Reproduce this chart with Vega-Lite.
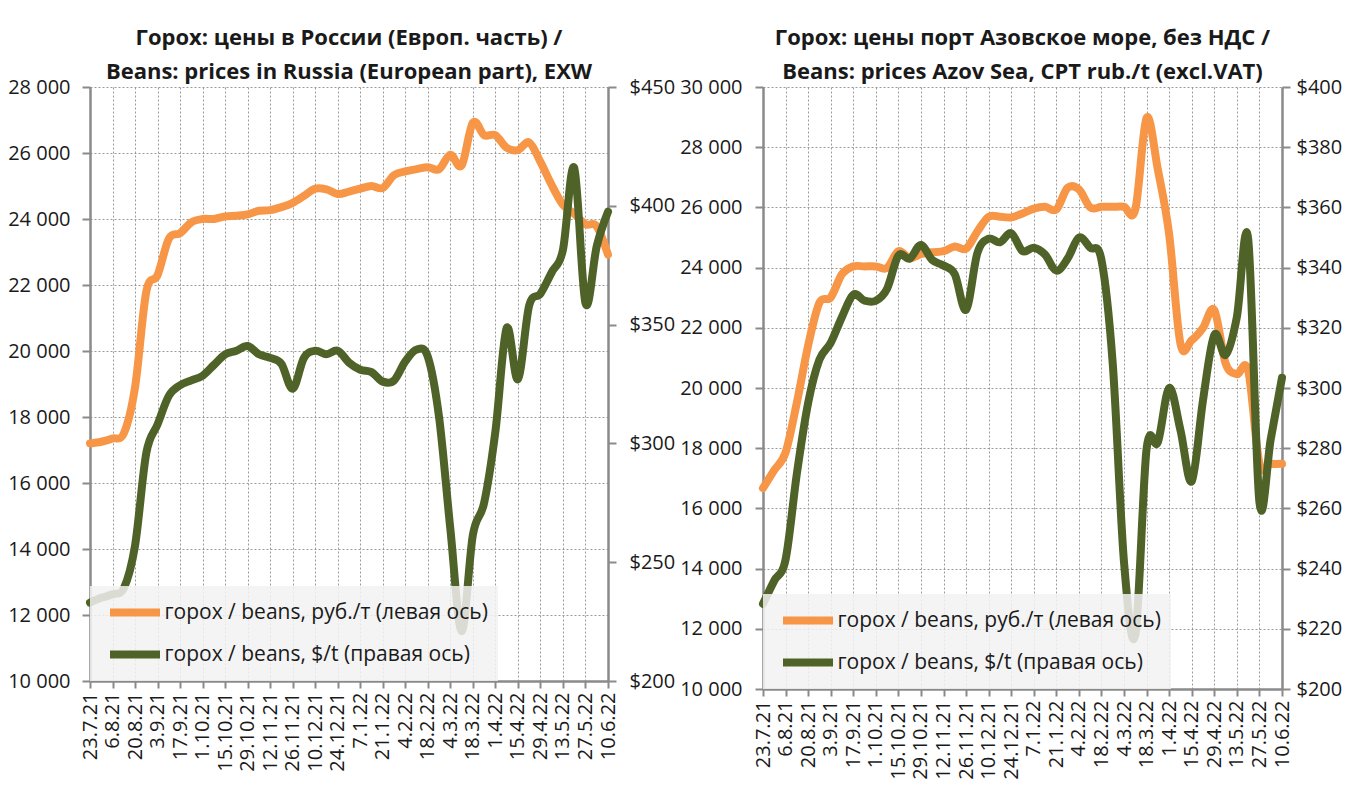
{
  "$schema": "https://vega.github.io/schema/vega-lite/v6.json",
  "padding": {"left": 5, "top": 27, "right": 0, "bottom": 0},
  "spacing": 4,
  "background": "white",
  "resolve": {"scale": {"color": "independent"}, "legend": {"color": "independent"}},
  "hconcat": [
    {
      "width": 518,
      "height": 594,
      "title": {"text": ["Горох: цены в России (Европ. часть) /", "Beans: prices in Russia (European part), EXW"]},
      "data": {"values": [
        {"date": "23.7.21", "rub": 17200, "usd": 233},
        {"date": "30.7.21", "rub": 17250, "usd": 235},
        {"date": "6.8.21", "rub": 17350, "usd": 236.5},
        {"date": "13.8.21", "rub": 17500, "usd": 239},
        {"date": "20.8.21", "rub": 18900, "usd": 257},
        {"date": "27.8.21", "rub": 21800, "usd": 296},
        {"date": "3.9.21", "rub": 22300, "usd": 308},
        {"date": "10.9.21", "rub": 23400, "usd": 320},
        {"date": "17.9.21", "rub": 23570, "usd": 324.5},
        {"date": "24.9.21", "rub": 23900, "usd": 326.5},
        {"date": "1.10.21", "rub": 24000, "usd": 328.5},
        {"date": "8.10.21", "rub": 24000, "usd": 333},
        {"date": "15.10.21", "rub": 24080, "usd": 337.5},
        {"date": "22.10.21", "rub": 24100, "usd": 339},
        {"date": "29.10.21", "rub": 24140, "usd": 341},
        {"date": "5.11.21", "rub": 24250, "usd": 337.5},
        {"date": "12.11.21", "rub": 24270, "usd": 336},
        {"date": "19.11.21", "rub": 24360, "usd": 333.5},
        {"date": "26.11.21", "rub": 24490, "usd": 323},
        {"date": "3.12.21", "rub": 24700, "usd": 336},
        {"date": "10.12.21", "rub": 24920, "usd": 339},
        {"date": "17.12.21", "rub": 24900, "usd": 337.5},
        {"date": "24.12.21", "rub": 24760, "usd": 339},
        {"date": "31.12.21", "rub": 24830, "usd": 334},
        {"date": "7.1.22", "rub": 24920, "usd": 331},
        {"date": "14.1.22", "rub": 25000, "usd": 330},
        {"date": "21.1.22", "rub": 24940, "usd": 326},
        {"date": "28.1.22", "rub": 25330, "usd": 326.5},
        {"date": "4.2.22", "rub": 25440, "usd": 334.5},
        {"date": "11.2.22", "rub": 25510, "usd": 339.5},
        {"date": "18.2.22", "rub": 25570, "usd": 336.5},
        {"date": "25.2.22", "rub": 25510, "usd": 311},
        {"date": "4.3.22", "rub": 25950, "usd": 264},
        {"date": "11.3.22", "rub": 25620, "usd": 221},
        {"date": "18.3.22", "rub": 26920, "usd": 261.5},
        {"date": "25.3.22", "rub": 26540, "usd": 275},
        {"date": "1.4.22", "rub": 26540, "usd": 305},
        {"date": "8.4.22", "rub": 26160, "usd": 348.5},
        {"date": "15.4.22", "rub": 26090, "usd": 327},
        {"date": "22.4.22", "rub": 26320, "usd": 358},
        {"date": "29.4.22", "rub": 25730, "usd": 363},
        {"date": "6.5.22", "rub": 25030, "usd": 372},
        {"date": "13.5.22", "rub": 24430, "usd": 381.5},
        {"date": "20.5.22", "rub": 24160, "usd": 416},
        {"date": "27.5.22", "rub": 23840, "usd": 359},
        {"date": "3.6.22", "rub": 23780, "usd": 383},
        {"date": "10.6.22", "rub": 22920, "usd": 397.5}
      ]},
      "encoding": {
        "x": {
          "field": "date", "type": "ordinal", "sort": null,
          "scale": {"type": "point", "padding": 0},
          "axis": {
            "values": ["23.7.21","6.8.21","20.8.21","3.9.21","17.9.21","1.10.21","15.10.21","29.10.21","12.11.21","26.11.21","10.12.21","24.12.21","7.1.22","21.1.22","4.2.22","18.2.22","4.3.22","18.3.22","1.4.22","15.4.22","29.4.22","13.5.22","27.5.22","10.6.22"],
            "labelAngle": -90, "grid": true, "tickSize": 7, "labelPadding": 4
          }
        }
      },
      "layer": [
        {
          "mark": {"type": "line", "strokeWidth": 8, "interpolate": "cardinal", "strokeCap": "round", "strokeJoin": "round"},
          "encoding": {
            "y": {
              "field": "rub", "type": "quantitative",
              "scale": {"domain": [10000, 28000], "nice": false, "zero": false},
              "axis": {"orient": "left", "values": [10000,12000,14000,16000,18000,20000,22000,24000,26000,28000], "labelExpr": "replace(format(datum.value, ','), ',', ' ')", "grid": true, "minExtent": 85, "maxExtent": 85, "labelPadding": 12}
            },
            "color": {
              "datum": "горох / beans, руб./т (левая ось)",
              "scale": {"domain": ["горох / beans, руб./т (левая ось)", "горох / beans, $/t  (правая ось)"], "range": ["#F79646", "#4F6228"]},
              "legend": {"orient": "bottom-left", "offset": 0, "symbolType": "M-2,0H2", "symbolSize": 625, "symbolOffset": 18.5, "labelOffset": 13}
            }
          }
        },
        {
          "mark": {"type": "line", "strokeWidth": 8, "interpolate": "cardinal", "strokeCap": "round", "strokeJoin": "round"},
          "encoding": {
            "y": {
              "field": "usd", "type": "quantitative",
              "scale": {"domain": [200, 450], "nice": false, "zero": false},
              "axis": {"orient": "right", "values": [200,250,300,350,400,450], "labelExpr": "'$' + datum.value", "grid": false, "minExtent": 64, "maxExtent": 64, "labelPadding": 13}
            },
            "color": {"datum": "горох / beans, $/t  (правая ось)"}
          }
        }
      ],
      "resolve": {"scale": {"y": "independent"}}
    },
    {
      "width": 519,
      "height": 602,
      "title": {"text": ["Горох: цены порт Азовское море, без НДС /", "Beans: prices Azov Sea, CPT rub./t (excl.VAT)"]},
      "data": {"values": [
        {"date": "23.7.21", "rub": 16675, "usd": 228.3},
        {"date": "30.7.21", "rub": 17270, "usd": 236},
        {"date": "6.8.21", "rub": 17860, "usd": 243},
        {"date": "13.8.21", "rub": 19515, "usd": 271.5},
        {"date": "20.8.21", "rub": 21410, "usd": 295},
        {"date": "27.8.21", "rub": 22830, "usd": 309.4},
        {"date": "3.9.21", "rub": 23010, "usd": 315},
        {"date": "10.9.21", "rub": 23780, "usd": 323.6},
        {"date": "17.9.21", "rub": 24040, "usd": 331},
        {"date": "24.9.21", "rub": 24040, "usd": 329},
        {"date": "1.10.21", "rub": 24040, "usd": 329},
        {"date": "8.10.21", "rub": 23990, "usd": 333},
        {"date": "15.10.21", "rub": 24545, "usd": 344},
        {"date": "22.10.21", "rub": 24310, "usd": 343},
        {"date": "29.10.21", "rub": 24450, "usd": 347.5},
        {"date": "5.11.21", "rub": 24510, "usd": 342.5},
        {"date": "12.11.21", "rub": 24545, "usd": 340.7},
        {"date": "19.11.21", "rub": 24700, "usd": 337.8},
        {"date": "26.11.21", "rub": 24630, "usd": 326},
        {"date": "3.12.21", "rub": 25200, "usd": 344.8},
        {"date": "10.12.21", "rub": 25690, "usd": 349.6},
        {"date": "17.12.21", "rub": 25690, "usd": 348.4},
        {"date": "24.12.21", "rub": 25670, "usd": 351.4},
        {"date": "31.12.21", "rub": 25800, "usd": 345.5},
        {"date": "7.1.22", "rub": 25960, "usd": 346.6},
        {"date": "14.1.22", "rub": 26020, "usd": 344.3},
        {"date": "21.1.22", "rub": 25930, "usd": 339},
        {"date": "28.1.22", "rub": 26650, "usd": 343},
        {"date": "4.2.22", "rub": 26600, "usd": 350},
        {"date": "11.2.22", "rub": 26000, "usd": 346.6},
        {"date": "18.2.22", "rub": 26020, "usd": 342.5},
        {"date": "25.2.22", "rub": 26020, "usd": 308},
        {"date": "4.3.22", "rub": 26020, "usd": 242},
        {"date": "11.3.22", "rub": 25930, "usd": 218},
        {"date": "18.3.22", "rub": 28980, "usd": 279.8},
        {"date": "25.3.22", "rub": 27250, "usd": 282},
        {"date": "1.4.22", "rub": 25100, "usd": 300},
        {"date": "8.4.22", "rub": 21470, "usd": 286},
        {"date": "15.4.22", "rub": 21590, "usd": 269},
        {"date": "22.4.22", "rub": 22000, "usd": 296},
        {"date": "29.4.22", "rub": 22590, "usd": 317.6},
        {"date": "6.5.22", "rub": 20820, "usd": 311},
        {"date": "13.5.22", "rub": 20460, "usd": 323.6},
        {"date": "20.5.22", "rub": 20580, "usd": 349.6},
        {"date": "27.5.22", "rub": 17500, "usd": 262},
        {"date": "3.6.22", "rub": 17480, "usd": 283},
        {"date": "10.6.22", "rub": 17480, "usd": 303.4}
      ]},
      "encoding": {
        "x": {
          "field": "date", "type": "ordinal", "sort": null,
          "scale": {"type": "point", "padding": 0},
          "axis": {
            "values": ["23.7.21","6.8.21","20.8.21","3.9.21","17.9.21","1.10.21","15.10.21","29.10.21","12.11.21","26.11.21","10.12.21","24.12.21","7.1.22","21.1.22","4.2.22","18.2.22","4.3.22","18.3.22","1.4.22","15.4.22","29.4.22","13.5.22","27.5.22","10.6.22"],
            "labelAngle": -90, "grid": true, "tickSize": 7, "labelPadding": 4
          }
        }
      },
      "layer": [
        {
          "mark": {"type": "line", "strokeWidth": 8, "interpolate": "cardinal", "strokeCap": "round", "strokeJoin": "round"},
          "encoding": {
            "y": {
              "field": "rub", "type": "quantitative",
              "scale": {"domain": [10000, 30000], "nice": false, "zero": false},
              "axis": {"orient": "left", "values": [10000,12000,14000,16000,18000,20000,22000,24000,26000,28000,30000], "labelExpr": "replace(format(datum.value, ','), ',', ' ')", "grid": true, "minExtent": 80, "maxExtent": 80, "labelPadding": 13}
            },
            "color": {
              "datum": "горох / beans, руб./т (левая ось)",
              "scale": {"domain": ["горох / beans, руб./т (левая ось)", "горох / beans, $/t (правая ось)"], "range": ["#F79646", "#4F6228"]},
              "legend": {"orient": "bottom-left", "offset": 0, "symbolType": "M-2,0H2", "symbolSize": 625, "symbolOffset": 18.5, "labelOffset": 13}
            }
          }
        },
        {
          "mark": {"type": "line", "strokeWidth": 8, "interpolate": "cardinal", "strokeCap": "round", "strokeJoin": "round"},
          "encoding": {
            "y": {
              "field": "usd", "type": "quantitative",
              "scale": {"domain": [200, 400], "nice": false, "zero": false},
              "axis": {"orient": "right", "values": [200,220,240,260,280,300,320,340,360,380,400], "labelExpr": "'$' + datum.value", "grid": false, "labelPadding": 6}
            },
            "color": {"datum": "горох / beans, $/t (правая ось)"}
          }
        }
      ],
      "resolve": {"scale": {"y": "independent"}}
    }
  ],
  "config": {
    "font": "Open Sans",
    "view": {"stroke": null},
    "axis": {
      "title": null,
      "labelFont": "Open Sans", "labelFontSize": 20, "labelColor": "#1a1a1a",
      "domainColor": "#8a8a8a", "domainWidth": 2.5,
      "tickColor": "#8a8a8a", "tickWidth": 2, "tickSize": 8,
      "gridColor": "#9a9a9a", "gridDash": [2, 2], "gridWidth": 1
    },
    "legend": {
      "title": null,
      "fillColor": "rgba(242,242,242,0.85)",
      "padding": 10, "rowPadding": 9,
      "symbolStrokeWidth": 8,
      "labelFont": "Open Sans", "labelFontSize": 21, "labelColor": "#1a1a1a",
      "labelLimit": 600
    },
    "title": {
      "font": "Open Sans", "fontSize": 22, "fontWeight": "bold", "color": "#1a1a1a",
      "lineHeight": 34, "offset": -7, "anchor": "middle", "frame": "group"
    }
  }
}
